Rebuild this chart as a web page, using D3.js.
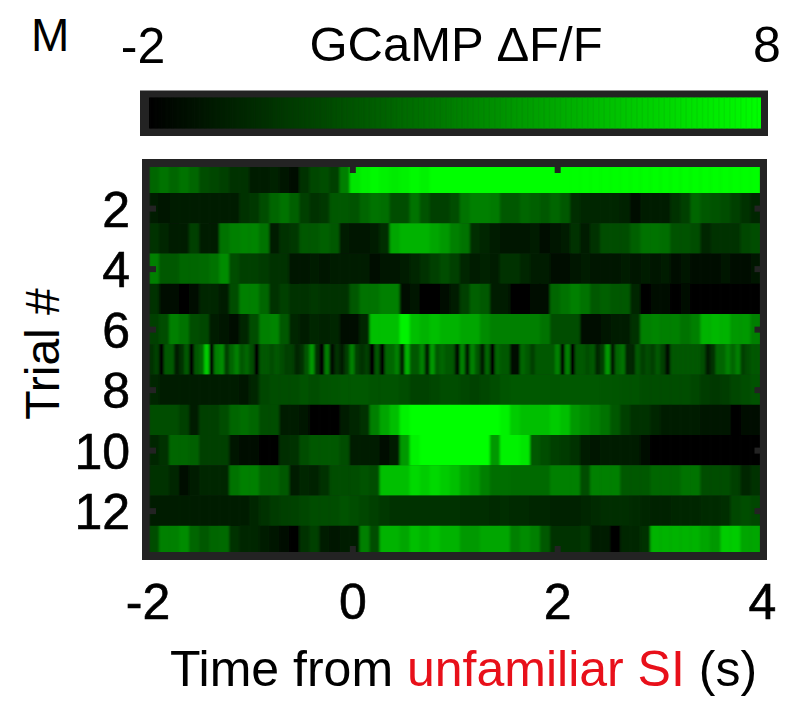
<!DOCTYPE html>
<html><head><meta charset="utf-8">
<script src="https://cdn.jsdelivr.net/npm/d3@7"></script>
<style>html,body{margin:0;padding:0;background:#fff}svg{display:block}text{font-family:"Liberation Sans",Arial,sans-serif;fill:#000}</style>
</head><body><svg id="c" width="800" height="723"></svg>
<script>
const trial1=[2,2.5,2,2.5,2,1,.8,.5,0,0,-1,-1,-.7,-1.2,-1.5,0,.8,1,.5,3,7,7.5,7.8,7.5,7.2,7.5,7.8,7.5,8,8,8,8,8,8,8,8,8,8,8,8,8,8,8,8,8,8,8,8,8,8,8,8,8,8,8,8,8,8,8,8,8];
const trial2=[-1,-1.3,-1,-.8,-1,-.8,-.8,-1,-.8,0,.2,1,2,2.5,1.8,.5,0,.2,1.5,1.5,1.2,2,2.5,2.3,1,1,2.5,1.2,.5,.5,1,2.5,3,3,2.8,1.5,1.5,2,1.8,1.5,2,1.5,-.2,-.5,-.5,-.5,-.5,-.7,-1.7,-1,-.8,-.8,0,.5,2,1.5,1.2,1,.5,0,-.5];
const trial3=[0,-.5,-1,-.8,.5,-.8,-1,2.5,3,3.2,3.2,2.5,-.8,0,.2,1.5,1.5,1.8,1.5,-1,-1.2,-1.2,-.8,-.2,4.5,5,5,5,4.5,4,3,2.5,-.2,-.5,-.8,-1.2,-1.1,-1.1,-1,-1.5,-1.2,-1,0,-.8,0,1,1,1,1.8,2.5,2.5,2.3,1.2,1.2,1,-.5,0,0,0,.8,1];
const trial4=[3,1.5,1.5,2,2,2.2,2.5,3.5,1,.5,.5,.3,0,0,-1.3,-1.2,-1,-1.2,-1,-1,-1,-1,-1.5,-1.2,-1.2,-1,-.5,0,.5,1,.5,-.5,-1,-.7,-.8,0,0,-.5,-.8,-.8,-1.5,-1.6,-1.2,-1,-1.2,-1.3,-1.3,-1,-1.2,-1,-1.1,-1,-1.4,-1.2,-1.5,-1.4,-1.6,-1.3,-1.4,-1.5,-1.3];
const trial5=[0,-1.5,-1.6,-1.8,-1.7,-.5,-.5,-1,1,3,3,2,0,.5,0,0,.2,0,0,0,1.5,2.5,2.5,3,3,-1.7,-1.2,-2,-1.8,-1.5,-1,.5,1.8,1.5,-.8,-1,-1.8,-1.9,-1.4,-1.4,2,2.5,3,2.5,1.5,1.8,1.5,1.5,-.5,-1.9,-1.7,-1.7,-1.8,-1.6,-1.9,-1.8,-1.9,-2,-2,-2,-2];
const trial6=[.5,1,3,2.5,1,.8,-1,-1.2,-1.4,-.5,1,3,3.2,1.5,-.5,-.8,-.5,-.7,-.5,-1.5,-1.5,-.5,5.5,5.5,5.5,7.5,5.5,5,5.5,5,5,4.5,4.5,3.5,3,3,3,3,3,2.5,1,1,1,-1.5,-1.5,-1.2,-1,-1,0,3,3.2,3,3,2.5,3,5,5.2,5,4,4,3];
const trial7=[0,.5,-2,1.5,1.5,-1,0,1.5,-2,1.5,2,6,-1.5,3,3.5,.5,2,3,1.5,2,1,-2,1.5,1.5,1,1.5,1,.5,.5,-.5,0,1.5,4,0,-2,3,-1.5,0,-1,.5,3,.5,0,.5,-2,1.5,-2,2,2,3,-1,5,1.5,1.5,3,-1,4,1.5,2,1.5,1.5,-1.5,3,-1,3,1.5,-1,2,-2,2,1.5,1.5,-1.5,-1.5,2,1.5,.5,1.5,1.5,1.5,1.5,3,-1.5,3,-2,1.5,1.5,1,1.5,-.5,.5,4,-1,2,2.5,-.5,-.5,1.5,.5,1,.5,1.5,.5,-1.5,1.5,1.5,1.5,1.5,1.5,1.5,1,-1,0,2,2,3,2,3,.5,1,1.5,1.5];
const trial8=[-.5,-.8,-.8,-.8,-.8,-1,-1,-1,-.8,-1.1,-.5,.8,1,1,1,1.2,1,1.2,1.3,1.5,1.5,1.5,1.2,1.2,1.2,1,.6,.6,.8,1,1,.8,.6,.8,1,1.3,1.5,1.5,1.5,1.5,1.4,1.5,1.5,1.5,1.5,1.4,1.3,1.2,1.2,1,1,1,1,1,.8,.4,.2,.4,.8,1,1.2];
const trial9=[1,1,1,.5,-1,.5,.5,1,2,2.3,2,1,1,-1,-1,-1.2,-1.9,-1.9,-1.9,-.8,-.5,0,3,4.5,5.5,7.5,8,8,8,8,8,8,8,8,8,7.5,6,5.5,5.5,5.5,6,5.5,4,3.5,3,2.5,1.5,.5,0,0,-.5,-.8,-.8,-.8,-.8,-1.1,-1.2,-1.2,-1.9,-1.6,-1.5];
const trial10=[-.5,0,2,2,1.8,.5,.5,.5,-1.2,-1.4,-1.5,-2,-1.9,-.2,0,1,1.5,1.5,1.5,1,-1,-.8,-1,-1.4,-1,4,7.5,8,8,8,8,8,8,8,4,7.5,7.5,7,1.5,1,.5,.3,0,-1,-1.2,-.8,-1,-.8,-1,-1.7,-1.9,-1.8,-2,-2,-2,-2,-2,-2,-2,-2,-2];
const trial11=[0,0,-.5,-1.5,-.8,-.5,-.5,-.5,2.5,3,3,2,2,1.5,-1,-.5,-.7,0,1,1,1,1.2,1,5.5,5.5,5.5,6.5,6,6.5,6,5.5,4.5,4,3,2.3,2.3,2.2,2.2,2.2,2.2,3,3,3,1,3,3,3,1.5,1.5,1.5,2,2,2,2.5,2.5,1,1,1,.5,-.5,0];
const trial12=[-1,-1,-1,-1,-1,-1,-1,-1,-1,-.8,-.5,0,.3,.5,.6,.8,1,1,1,1.2,1,.8,.5,.2,0,0,0,0,0,0,0,-.2,-.2,-.2,-.4,-.2,-.4,-.4,-.5,-.5,-.7,-.7,-.7,-.5,-.4,-.2,-.2,-.2,-.3,-.5,-.6,-.6,-.5,-.5,-.5,-.4,-.4,-.2,.8,1,.8];
const trial13=[1,3,3,3.5,2,1.5,2,2.2,0,-.5,-.5,-1,-1.1,-1.5,-2,0,.5,-.8,-1.2,-1,-.8,3,1,5,5,4.5,5.5,5,5.5,5,5,4,4,4.5,4.5,4.5,3,3.5,3,1.5,0,0,0,.2,-1,-1,-2,-.5,-.5,0,5,5,5,5,5,4.5,4,6,6,4.5,4.5];
const trials=[trial1,trial2,trial3,trial4,trial5,trial6,trial7,trial8,trial9,trial10,trial11,trial12,trial13];
const colorDomain=[-2,8];
const xTicks=[-2,0,2,4];
const yTicks=[2,4,6,8,10,12];

const svg=d3.select("#c");
const ink="#232323";
const x=d3.scaleLinear().domain([-2,4]).range([147.5,762]);
const y=d3.scaleLinear().domain([.5,13.5]).range([162.75,556]);
const color=d3.scaleLinear().domain(colorDomain).range(["#000000","#00ff00"]).clamp(true);

const defs=svg.append("defs");
defs.append("filter").attr("id","soft").attr("x","-2%").attr("y","-2%").attr("width","104%").attr("height","104%")
  .append("feGaussianBlur").attr("stdDeviation","1.1 0.35");
defs.append("clipPath").attr("id","inner").append("rect").attr("x",149.5).attr("y",167).attr("width",610.5).attr("height",385);

// colour bar
const barX=d3.scaleLinear().domain(colorDomain).range([149,761]);
const barVals=d3.range(-2,8,0.02);
svg.append("rect").attr("x",140).attr("y",90.5).attr("width",628).attr("height",45.5).attr("fill",ink);
svg.append("g").selectAll("rect").data(barVals).join("rect")
  .attr("x",d=>barX(d)).attr("width",d=>Math.min(barX(d+.02)-barX(d)+.5,761-barX(d))).attr("y",97.5).attr("height",31).attr("fill",d=>color(d));

// heat map
svg.append("rect").attr("x",142).attr("y",159).attr("width",625).attr("height",401).attr("fill",ink);
const heat=svg.append("g").attr("clip-path","url(#inner)").append("g").attr("filter","url(#soft)");
heat.selectAll("g").data(trials).join("g").each(function(vals,r){
  const band=d3.scaleBand().domain(d3.range(vals.length)).range([149,760.5]);
  d3.select(this).selectAll("rect").data(vals).join("rect")
    .attr("x",(d,i)=>band(i)).attr("width",band.bandwidth()+.4)
    .attr("y",y(r+.5)).attr("height",y(r+1.5)-y(r+.5)+.3)
    .attr("fill",d=>color(d));
});

// inward ticks on all four sides
const tickStyle=g=>{g.select(".domain").remove();g.selectAll("line").attr("stroke",ink).attr("stroke-width",6);};
svg.append("g").attr("transform","translate(0,167)").call(d3.axisTop(x).tickValues(xTicks.slice(1,3)).tickSize(-6).tickFormat("")).call(tickStyle);
svg.append("g").attr("transform","translate(0,552)").call(d3.axisBottom(x).tickValues(xTicks.slice(1,3)).tickSize(-6).tickFormat("")).call(tickStyle);
svg.append("g").attr("transform","translate(149,0)").call(d3.axisLeft(y).tickValues(yTicks).tickSize(-7).tickFormat("")).call(tickStyle);
svg.append("g").attr("transform","translate(760.5,0)").call(d3.axisRight(y).tickValues(yTicks).tickSize(-6).tickFormat("")).call(tickStyle);

// tick labels
const labelStyle=g=>{g.select(".domain").remove();g.selectAll("line").remove();
  g.selectAll("text").attr("font-size",50).attr("fill","#000").style("font-family",'"Liberation Sans",Arial,sans-serif').attr("stroke","#000").attr("stroke-width",.6);};
svg.append("g").attr("transform","translate(0,619)")
  .call(d3.axisBottom(x).tickValues(xTicks).tickSize(0).tickPadding(0).tickFormat(d=>d))
  .call(labelStyle).selectAll("text").attr("y",0).attr("dy",0);
svg.append("g").attr("transform","translate(130,0)")
  .call(d3.axisLeft(y).tickValues(yTicks).tickSize(0).tickPadding(0).tickFormat(d=>d))
  .call(labelStyle).selectAll("text").attr("x",0).attr("dy","0.36em");

// titles
const T=(s,px,py,fs,a)=>svg.append("text").attr("x",px).attr("y",py).attr("font-size",fs).attr("text-anchor",a||"start").text(s);
T("M",31,51,46);
T("-2",143,63,50,"middle");
T("GCaMP \u0394F/F",456,61,49,"middle");
T("8",767,62,50,"middle");
svg.append("text").attr("transform","translate(59,354) rotate(-90)").attr("font-size",48).attr("text-anchor","middle").text("Trial #");
const xl=svg.append("text").attr("x",463.5).attr("y",686).attr("font-size",50).attr("text-anchor","middle");
xl.append("tspan").text("Time from ");
xl.append("tspan").style("fill","#e8101a").text("unfamiliar SI");
xl.append("tspan").text(" (s)");
</script></body></html>
